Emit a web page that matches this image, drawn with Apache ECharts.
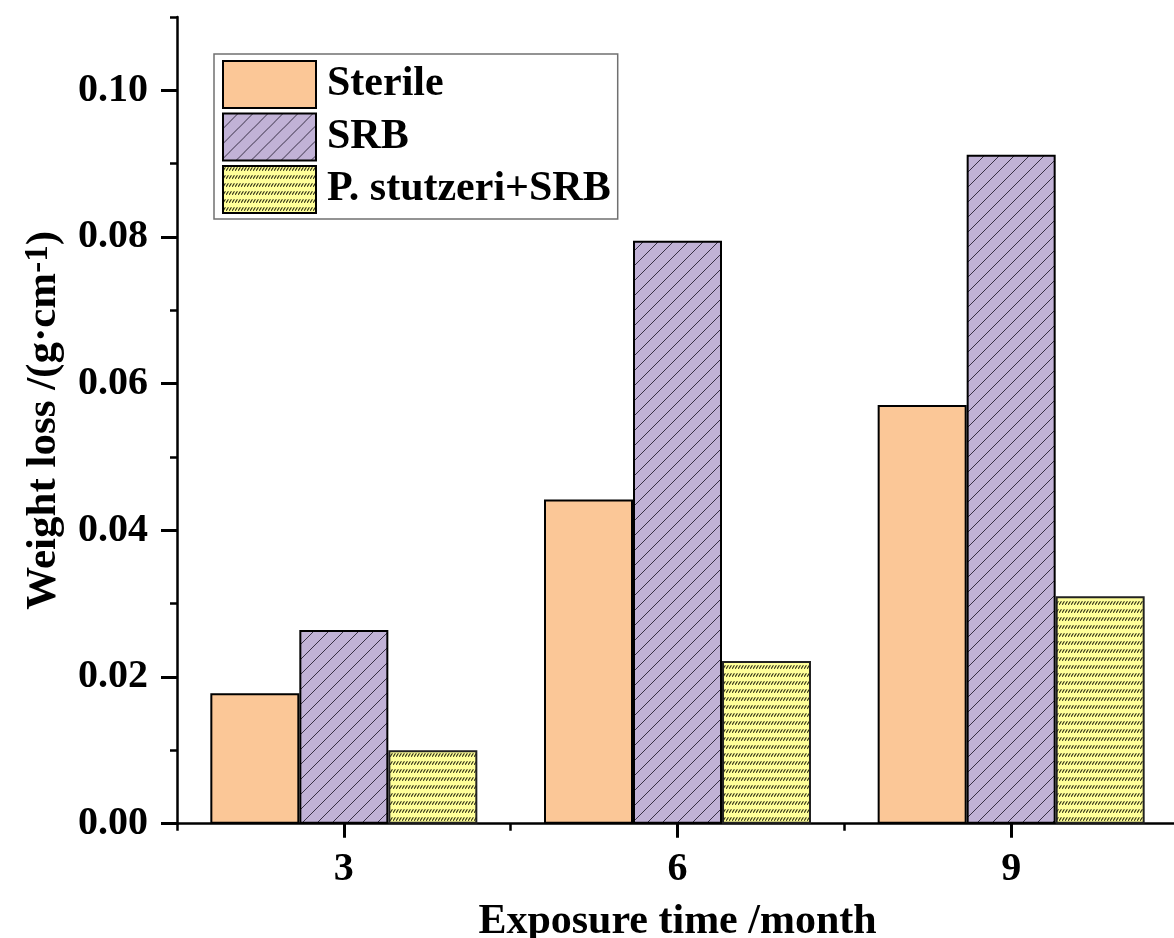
<!DOCTYPE html>
<html>
<head>
<meta charset="utf-8">
<script src="https://cdn.jsdelivr.net/npm/echarts@6/dist/echarts.min.js"></script>
<style>
  html, body { margin: 0; padding: 0; background: #fff; }
  #chart { width: 1174px; height: 938px; }
</style>
</head>
<body>
<div id="chart"></div>
<script>
// Exposure times (months) and weight loss per group (g·cm^-1)
const months = ['3', '6', '9'];
const sterile = [0.0178, 0.0442, 0.0571];
const srb = [0.0264, 0.0795, 0.0912];
const stutzeriSrb = [0.0100, 0.0222, 0.0310];
const seriesNames = ['Sterile', 'SRB', 'P. stutzeri+SRB'];

// Value-axis ticks: labelled majors and the axis top
const yMajorTicks = [0, 0.02, 0.04, 0.06, 0.08, 0.10];
const yMinorStep = 0.01;
const yMax = 0.11;

const FONT = '"Liberation Serif", "Times New Roman", serif';

// Diagonal "/" hatch on lavender
function hatchPattern() {
  const c = document.createElement('canvas');
  c.width = 15; c.height = 15;
  const g = c.getContext('2d');
  g.fillStyle = '#C1B2D6';
  g.fillRect(0, 0, 15, 15);
  g.strokeStyle = 'rgba(40,32,52,0.9)';
  g.lineWidth = 1;
  for (const o of [-15, 0, 15]) {
    g.beginPath();
    g.moveTo(o, 15);
    g.lineTo(o + 15, 0);
    g.stroke();
  }
  return { image: c, repeat: 'repeat' };
}

// Rows of short slanted dashes on pale yellow
function dashRowPattern() {
  const c = document.createElement('canvas');
  c.width = 3; c.height = 8;
  const g = c.getContext('2d');
  g.fillStyle = '#FFFF99';
  g.fillRect(0, 0, 3, 8);
  g.strokeStyle = 'rgba(45,45,20,1)';
  g.lineWidth = 1.1;
  g.beginPath();
  g.moveTo(0.2, 4.8);
  g.lineTo(2.4, 1.3);
  g.stroke();
  return { image: c, repeat: 'repeat' };
}

const fills = ['#FBC797', hatchPattern(), dashRowPattern()];
const values = [sterile, srb, stutzeriSrb];

const chart = echarts.init(document.getElementById('chart'), null, { renderer: 'canvas' });

const boldText = { fontFamily: FONT, fontWeight: 'bold', color: '#000' };

chart.setOption({
  animation: false,
  backgroundColor: '#fff',
  grid: { left: 177, top: 17, width: 1001, height: 806.7, containLabel: false, outerBoundsMode: 'none' },
  legend: {
    orient: 'vertical',
    left: 214,
    top: 54,
    padding: [6, 7, 5, 8],
    itemGap: 3.5,
    itemWidth: 93,
    itemHeight: 47,
    borderColor: '#707070',
    borderWidth: 1.5,
    icon: 'rect',
    itemStyle: { borderColor: '#000', borderWidth: 2 },
    textStyle: Object.assign({ fontSize: 42, padding: [0, 0, 0, 6] }, boldText),
    data: seriesNames
  },
  xAxis: [
    {
      type: 'category',
      data: months,
      position: 'bottom',
      axisLine: { show: true, lineStyle: { color: '#000', width: 2.5 } },
      axisTick: { show: true, alignWithLabel: true, length: 14, lineStyle: { color: '#000', width: 3 } },
      axisLabel: Object.assign({ fontSize: 40, margin: 26 }, boldText),
      splitLine: { show: false },
      name: 'Exposure time /month',
      nameLocation: 'middle',
      nameGap: 77,
      nameMoveOverlap: false,
      nameTextStyle: Object.assign({ fontSize: 42 }, boldText)
    },
    {
      type: 'category',
      data: months,
      position: 'bottom',
      axisLine: { show: false },
      axisTick: { show: true, alignWithLabel: false, length: 7, lineStyle: { color: '#000', width: 2.5 } },
      axisLabel: { show: false },
      splitLine: { show: false }
    }
  ],
  yAxis: [
    {
      type: 'value',
      min: 0,
      max: yMax,
      interval: 0.02,
      position: 'left',
      axisLine: { show: true, lineStyle: { color: '#000', width: 2.5 } },
      axisTick: { show: true, customValues: yMajorTicks, length: 16, lineStyle: { color: '#000', width: 3 } },
      axisLabel: Object.assign({
        customValues: yMajorTicks,
        fontSize: 40,
        margin: 29,
        formatter: v => v.toFixed(2)
      }, boldText),
      splitLine: { show: false },
      name: '{a|Weight loss /(g·cm}{s|-1}{a|)}',
      nameLocation: 'middle',
      nameRotate: 90,
      nameGap: 112,
      nameMoveOverlap: false,
      nameTextStyle: Object.assign({
        fontSize: 43,
        rich: {
          a: Object.assign({ fontSize: 43, lineHeight: 43, verticalAlign: 'bottom' }, boldText),
          s: Object.assign({ fontSize: 33, lineHeight: 33, verticalAlign: 'top', padding: [0, 0, 36, 0] }, boldText)
        }
      }, boldText)
    },
    {
      type: 'value',
      min: 0,
      max: yMax,
      interval: yMinorStep,
      position: 'left',
      axisLine: { show: false },
      axisTick: { show: true, length: 7, lineStyle: { color: '#000', width: 2.5 } },
      axisLabel: { show: false },
      splitLine: { show: false }
    }
  ],
  series: seriesNames.map((name, i) => ({
    name: name,
    type: 'bar',
    xAxisIndex: 0,
    yAxisIndex: 0,
    data: values[i],
    barWidth: 89,
    barGap: '0%',
    itemStyle: { color: fills[i], borderColor: i === 2 ? '#222' : '#000', borderWidth: 2 }
  }))
});
</script>
</body>
</html>
